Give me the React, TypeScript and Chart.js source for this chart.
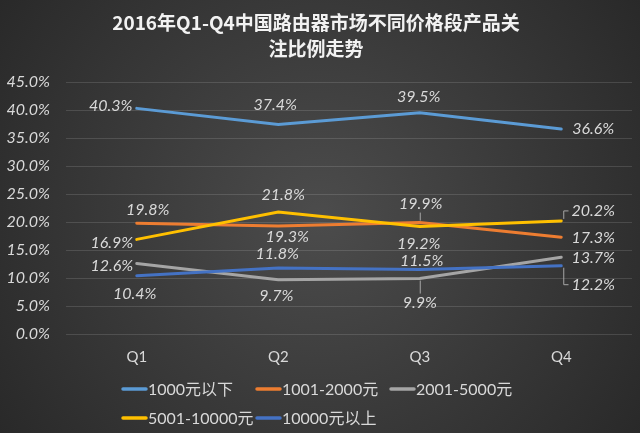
import React, { useEffect, useRef } from "react";
import { Chart, registerables } from "chart.js";

Chart.register(...registerables);

const categories = ["Q1", "Q2", "Q3", "Q4"];
const seriesNames = ["1000元以下", "1001-2000元", "2001-5000元", "5001-10000元", "10000元以上"];
const below1000 = [40.3, 37.4, 39.5, 36.6];
const r1001to2000 = [19.8, 19.3, 19.9, 17.3];
const r2001to5000 = [12.6, 9.7, 9.9, 13.7];
const r5001to10000 = [16.9, 21.8, 19.2, 20.2];
const above10000 = [10.4, 11.8, 11.5, 12.2];
const yMin = 0;
const yMax = 45;
const yStep = 5;

const seriesValues = [below1000, r1001to2000, r2001to5000, r5001to10000, above10000];
const seriesColors = ["#5B9BD5", "#ED7D31", "#A5A5A5", "#FFC000", "#4472C4"];

// label centre offsets relative to each point (style only)
const labelOffsets: [number, number][][] = [
  [[-26, -3], [-3, -20], [-1, -16], [32, 0]],
  [[11, -13], [9, 11], [1, -19], [32, 1]],
  [[-25, 2], [-2, 16], [0, 24], [32, 1]],
  [[-25, 3], [5, -17], [-1, 17], [32, -10]],
  [[-2, 18], [-1, -14], [2, -9], [32, 19]],
];
// leader line types: 0 none, 1 vertical, 2 bracket
const leaders: number[][] = [
  [0, 0, 0, 0],
  [0, 0, 1, 0],
  [0, 0, 1, 0],
  [0, 0, 0, 2],
  [0, 0, 0, 2],
];

const FONT = "Lato, 'Noto Sans CJK SC', sans-serif";

const bgPlugin = {
  id: "bg",
  beforeDraw(chart: any) {
    const { ctx, width, height } = chart;
    ctx.save();
    const g = ctx.createRadialGradient(width / 2, height / 2, 0, width / 2, height / 2, 420);
    g.addColorStop(0, "#4c4c4c");
    g.addColorStop(1, "#262626");
    ctx.fillStyle = g;
    ctx.fillRect(0, 0, width, height);
    ctx.restore();
  },
};

const labelPlugin = {
  id: "pointLabels",
  afterDatasetsDraw(chart: any) {
    const { ctx } = chart;
    ctx.save();
    ctx.font = `italic 16px ${FONT}`;
    ctx.fillStyle = "#d9d9d9";
    ctx.textAlign = "center";
    ctx.textBaseline = "middle";
    chart.data.datasets.forEach((ds: any, i: number) => {
      const meta = chart.getDatasetMeta(i);
      meta.data.forEach((pt: any, j: number) => {
        const [dx, dy] = labelOffsets[i][j];
        const txt = ds.data[j].toFixed(1) + "%";
        const lx = pt.x + dx;
        const ly = pt.y + dy;
        const w = ctx.measureText(txt).width;
        const lt = leaders[i][j];
        if (lt) {
          ctx.strokeStyle = "#a6a6a6";
          ctx.lineWidth = 1;
          ctx.beginPath();
          if (lt === 1) {
            const dir = dy < 0 ? -1 : 1;
            ctx.moveTo(pt.x + 0.5, pt.y + dir * 2);
            ctx.lineTo(pt.x + 0.5, ly - dir * 9);
          } else {
            const ex = lx - w / 2 - 3;
            ctx.moveTo(pt.x + 2.5, pt.y + (dy < 0 ? -2 : 2));
            ctx.lineTo(pt.x + 2.5, ly);
            ctx.lineTo(ex, ly);
          }
          ctx.stroke();
        }
        ctx.fillText(txt, lx, ly);
      });
    });
    ctx.restore();
  },
};

const legendPlugin = {
  id: "customLegend",
  afterDraw(chart: any) {
    const { ctx } = chart;
    ctx.save();
    ctx.font = `16px ${FONT}`;
    ctx.fillStyle = "#d9d9d9";
    ctx.textAlign = "left";
    ctx.textBaseline = "middle";
    const startX = 122;
    const colW = 134;
    const rows = [389, 418];
    seriesNames.forEach((name, i) => {
      const col = i % 3;
      const row = Math.floor(i / 3);
      const x = startX + col * colW;
      const y = rows[row];
      ctx.strokeStyle = seriesColors[i];
      ctx.lineWidth = 3.5;
      ctx.lineCap = "round";
      ctx.beginPath();
      ctx.moveTo(x + 1, y);
      ctx.lineTo(x + 24, y);
      ctx.stroke();
      ctx.fillText(name, x + 26, y + 1);
    });
    ctx.restore();
  },
};

export default function App() {
  const ref = useRef<HTMLCanvasElement>(null);
  useEffect(() => {
    document.body.style.margin = "0";
    if (!ref.current) return;
    const chart = new Chart(ref.current, {
      type: "line",
      data: {
        labels: categories,
        datasets: seriesValues.map((vals, i) => ({
          label: seriesNames[i],
          data: vals,
          borderColor: seriesColors[i],
          backgroundColor: seriesColors[i],
          borderWidth: 3,
          pointRadius: 0,
          tension: 0,
          fill: false,
          order: 4 - i,
          borderCapStyle: "round" as const,
        })),
      },
      options: {
        animation: false,
        responsive: false,
        maintainAspectRatio: false,
        layout: { padding: { left: 0, right: 8, top: 0, bottom: 0 } },
        plugins: {
          legend: { display: false },
          tooltip: { enabled: false },
          title: {
            display: true,
            text: ["2016年Q1-Q4中国路由器市场不同价格段产品关", "注比例走势"],
            color: "#f2f2f2",
            font: { family: "'Noto Sans CJK SC', sans-serif", size: 19, weight: "bold", lineHeight: 1.37 },
            padding: { top: 10, bottom: 20 },
          },
        },
        scales: {
          x: {
            offset: true,
            grid: { display: false, drawTicks: false },
            border: { display: false },
            ticks: { color: "#d9d9d9", font: { family: FONT, size: 15 }, padding: 14 },
            afterFit(scale: any) {
              scale.height = 99;
            },
          },
          y: {
            min: yMin,
            max: yMax,
            ticks: {
              stepSize: yStep,
              color: "#d9d9d9",
              font: { family: FONT, size: 16, style: "italic" },
              padding: 16,
              callback: (v: any) => Number(v).toFixed(1) + "%",
            },
            grid: { color: "rgba(255,255,255,0.13)", lineWidth: 1, drawTicks: false },
            border: { display: false },
            afterFit(scale: any) {
              scale.width = 66;
            },
          },
        },
      },
      plugins: [bgPlugin, labelPlugin, legendPlugin],
    });
    return () => chart.destroy();
  }, []);
  return <canvas ref={ref} width={640} height={433} style={{ display: "block", width: 640, height: 433 }} />;
}
